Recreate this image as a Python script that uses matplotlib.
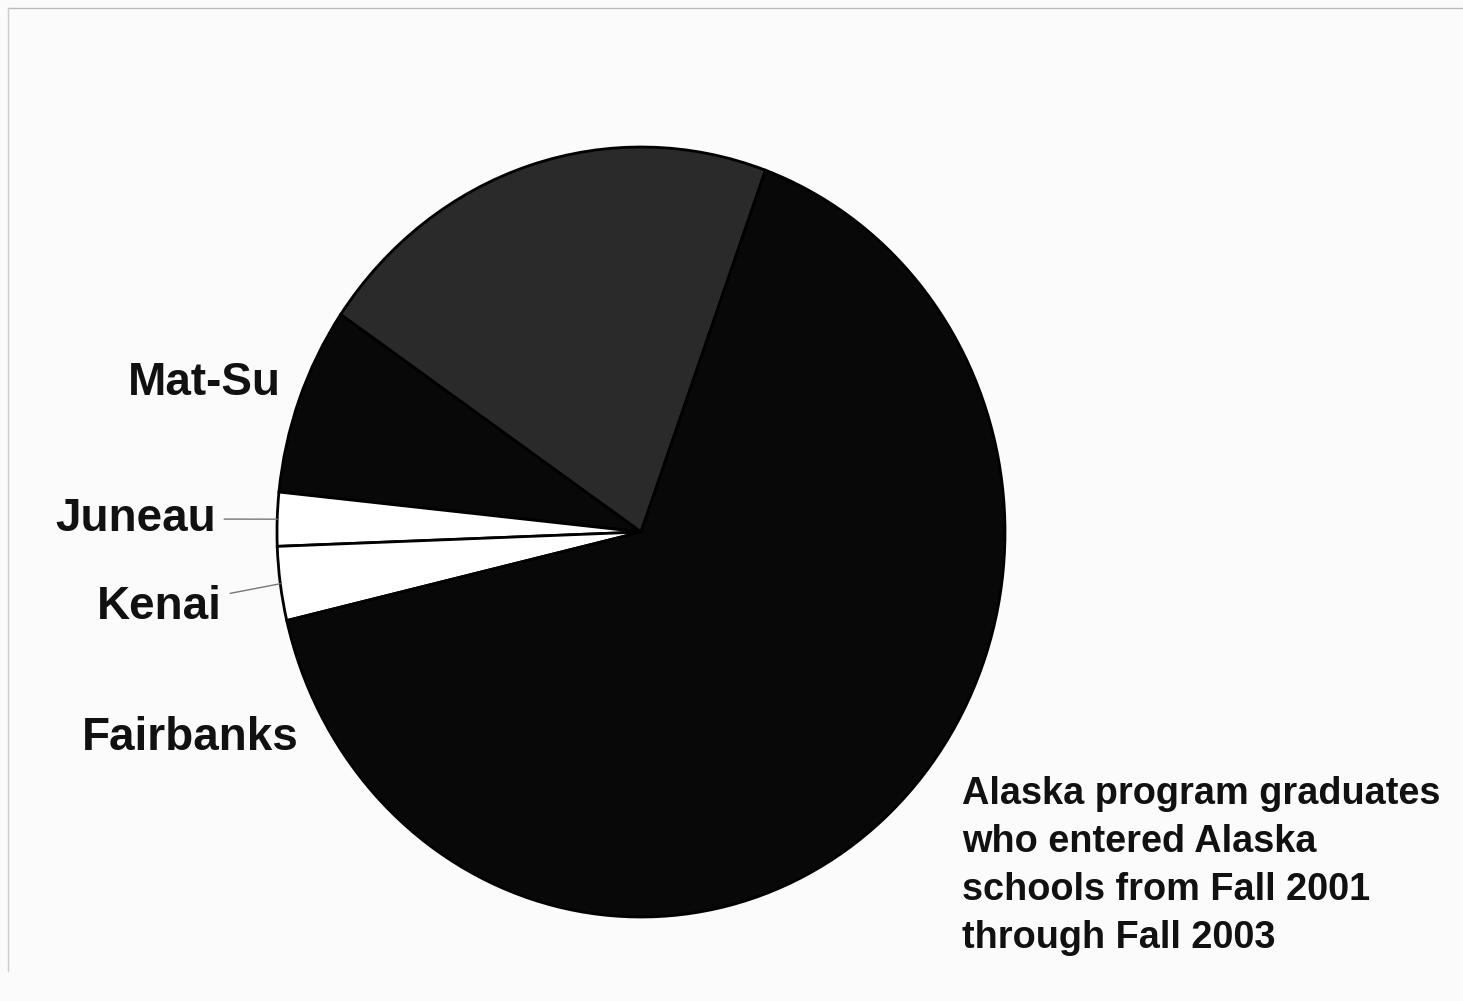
import numpy as np
import matplotlib
matplotlib.use("Agg")
import matplotlib.pyplot as plt

# share of graduates by district (percent)
districts = ["", "Mat-Su", "Juneau", "Kenai", "Fairbanks"]
shares = [21.0, 7.9, 2.25, 3.1, 65.75]
colors = ["#2a2a2a", "#080808", "#ffffff", "#ffffff", "#080808"]

caption = ("Alaska program graduates\nwho entered Alaska\n"
           "schools from Fall 2001\nthrough Fall 2003")

W, H = 1463, 1001
plt.rcParams["font.family"] = ["Liberation Sans", "DejaVu Sans"]

fig = plt.figure(figsize=(W / 100, H / 100), dpi=100)
fig.patch.set_facecolor("#fbfbfb")
ax = fig.add_axes([0, 0, 1, 1])

# scanned pie is a bit taller than wide
sx, sy = 364.0, 385.0
cx, cy = 641.0, 532.0
wedges, _ = ax.pie(shares, colors=colors, startangle=70, counterclock=True,
                   radius=1.0, center=(cx / sx, (H - cy) / sy),
                   wedgeprops=dict(edgecolor="black", linewidth=2))
ax.set_aspect("auto")
ax.set_xlim(0, W / sx)
ax.set_ylim(0, H / sy)
ax.axis("off")


def px(x, y):
    return x / sx, (H - y) / sy


label_style = dict(fontsize=33, fontweight="bold", color="#111111")
ax.text(*px(128, 383), "Mat-Su", ha="left", va="center", **label_style)
ax.text(*px(82, 738), "Fairbanks", ha="left", va="center", **label_style)

# leader lines for the two small slices
for name, w, xy_lab in [("Juneau", wedges[2], (55, 519)),
                        ("Kenai", wedges[3], (97, 607))]:
    mid = np.deg2rad((w.theta1 + w.theta2) / 2)
    tip = (w.center[0] + np.cos(mid), w.center[1] + np.sin(mid))
    ax.annotate(name, xy=tip, xytext=px(*xy_lab), ha="left", va="center",
                arrowprops=dict(arrowstyle="-", color="#777777", lw=1,
                                shrinkA=4, shrinkB=0),
                **label_style)

fig.text(962 / W, 1 - 866 / H, caption, ha="left", va="center",
         fontsize=27.3, fontweight="bold", color="#111111", linespacing=1.43)

# faint frame of the scanned page
fig.add_artist(plt.Line2D([8 / W, 1], [1 - 8 / H, 1 - 8 / H], color="#bbbbbb", lw=1))
fig.add_artist(plt.Line2D([8 / W, 8 / W], [0.03, 1 - 8 / H], color="#cccccc", lw=1))

fig.savefig("out.png", dpi=100, facecolor=fig.get_facecolor())
